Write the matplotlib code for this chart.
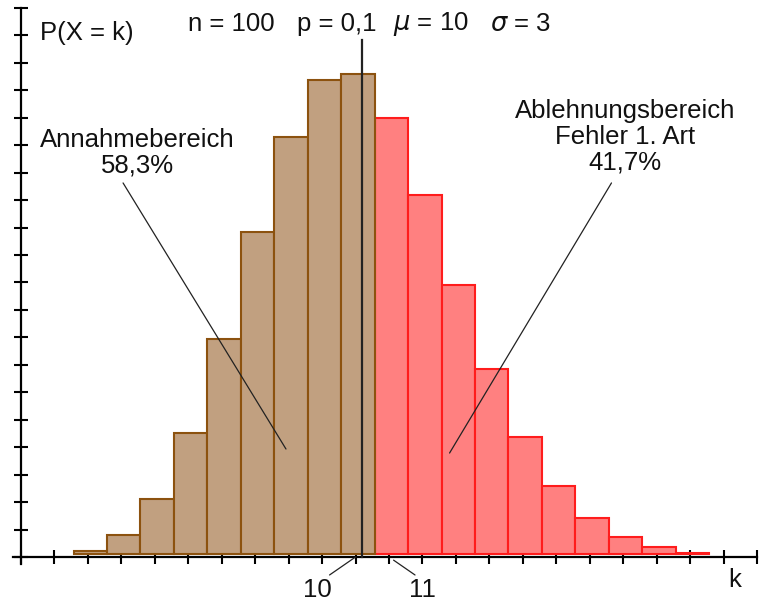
import matplotlib
matplotlib.use("Agg")
import matplotlib.pyplot as plt

# ---- data ----
k_values = [2, 3, 4, 5, 6, 7, 8, 9, 10, 11, 12, 13, 14, 15, 16, 17, 18, 19, 20]
probabilities = [0.0016, 0.0059, 0.0159, 0.0339, 0.0596, 0.0889, 0.1148, 0.1304,
                 0.1319, 0.1199, 0.0988, 0.0743, 0.0513, 0.0327, 0.0193, 0.0106,
                 0.0054, 0.0026, 0.0012]
critical_k = 10          # acceptance region: k <= 10
x_ticks = list(range(0, 23))
y_ticks = [i * 0.0075 for i in range(0, 21)]
labeled_ticks = ["10", "11"]
title_items = ["n = 100", "p = 0,1", "$\\mu$ = 10", "$\\sigma$ = 3"]
accept_text = "Annahmebereich\n58,3%"
reject_text = "Ablehnungsbereich\nFehler 1. Art\n41,7%"

W, H = 759, 604
plt.rcParams['font.family'] = ['Liberation Sans', 'DejaVu Sans']
fs = 18.5

fig = plt.figure(figsize=(W / 100, H / 100), dpi=100)
# axes box in pixels: x 13..757, y 8..564 (top..bottom)
ax = fig.add_axes([13 / W, (H - 564.3) / H, 744 / W, 556.3 / H])
ax.set_xlim(-0.24, 22.0)
ax.set_ylim(-0.002, 0.15)

for s in ['top', 'right']:
    ax.spines[s].set_visible(False)
ax.spines['left'].set_position(('data', 0))
ax.spines['bottom'].set_position(('data', 0))
for s in ['left', 'bottom']:
    ax.spines[s].set_linewidth(1.6)
    ax.spines[s].set_zorder(1)

ax.set_xticks(x_ticks)
ax.set_yticks(y_ticks)
ax.tick_params(axis='both', direction='inout', length=10.5, width=1.5,
               labelbottom=False, labelleft=False, color='black')
ax.patch.set_alpha(0)

bottom = 0.0008
offset = 0.07
brown_face, brown_edge = '#c1a080', '#8c520f'
red_face, red_edge = '#ff8080', '#ff1c1c'
for k, p in zip(k_values, probabilities):
    if k <= critical_k:
        fc, ec = brown_face, brown_edge
    else:
        fc, ec = red_face, red_edge
    ax.bar(k + offset, p - bottom, bottom=bottom, width=1.0, color=fc,
           edgecolor=ec, linewidth=1.5, zorder=3 if k <= critical_k else 2)

# boundary / mean line
ax.plot([critical_k + 0.18, critical_k + 0.18], [0, 0.1413], color='#222222',
        lw=1.6, zorder=5)

# annotations for regions
ax.annotate('', xy=(7.92, 0.0295), xytext=(3.05, 0.1022),
            arrowprops=dict(arrowstyle='-', color='#222222', lw=0.9,
                            shrinkA=0, shrinkB=0), zorder=6)
ax.annotate('', xy=(12.81, 0.0284), xytext=(17.65, 0.1022),
            arrowprops=dict(arrowstyle='-', color='#222222', lw=0.9,
                            shrinkA=0, shrinkB=0), zorder=6)

fig.text(137 / W, 1 - 153 / H, accept_text, ha='center', va='center',
         fontsize=fs, linespacing=1.1, color='#111111')
fig.text(625 / W, 1 - 137 / H, reject_text, ha='center', va='center',
         fontsize=fs, linespacing=1.1, color='#111111')

# labeled ticks 10 and 11 with leader lines
ax.annotate('', xy=(10, 0), xytext=(-26, -18), textcoords='offset pixels',
            arrowprops=dict(arrowstyle='-', color='#222222', lw=0.9,
                            shrinkA=0, shrinkB=0), annotation_clip=False)
ax.annotate(labeled_ticks[0], xy=(10, 0), xytext=(-38, -33),
            textcoords='offset pixels', ha='center', va='center',
            fontsize=fs, color='#111111', annotation_clip=False)
ax.annotate('', xy=(11, 0), xytext=(26, -18), textcoords='offset pixels',
            arrowprops=dict(arrowstyle='-', color='#222222', lw=0.9,
                            shrinkA=0, shrinkB=4), annotation_clip=False)
ax.annotate(labeled_ticks[1], xy=(11, 0), xytext=(33, -33),
            textcoords='offset pixels', ha='center', va='center',
            fontsize=fs, color='#111111', annotation_clip=False)

# axis labels
fig.text(40 / W, 1 - 33 / H, "P(X = k)", ha='left', va='center', fontsize=fs,
         color='#111111')
fig.text(735 / W, 1 - 580 / H, "k", ha='center', va='center', fontsize=fs,
         color='#111111')

# parameters
for txt, x in zip(title_items, [188, 297, 393, 490]):
    fig.text(x / W, 1 - 24 / H, txt, ha='left', va='center', fontsize=fs,
             color='#111111')

fig.savefig('out.png', dpi=100)
